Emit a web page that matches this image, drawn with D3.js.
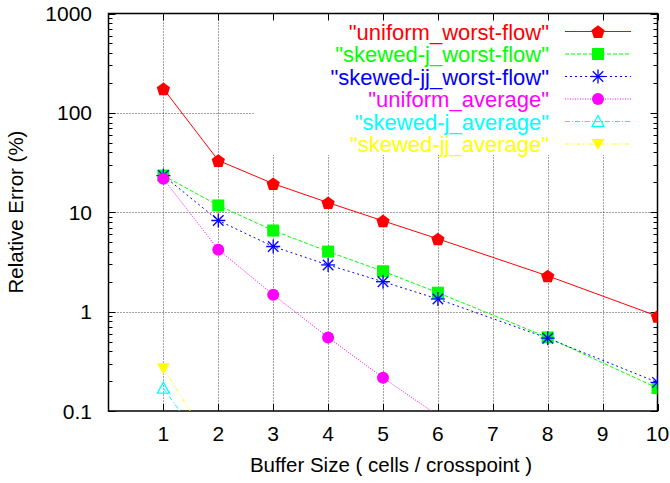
<!DOCTYPE html>
<html><head><meta charset="utf-8">
<script src="https://cdn.jsdelivr.net/npm/d3@7"></script>
<style>body{margin:0;background:#fff}svg{display:block}text{font-family:"Liberation Sans",Arial,Helvetica,sans-serif;fill:#000}</style>
</head><body><svg id="c" width="670" height="483"></svg>
<script>
const bufferSizes = [1, 2, 3, 4, 5, 6, 8, 10];
const uniformWorst = [175, 33.2, 19.4, 12.5, 8.2, 5.4, 2.29, 0.9];
const skewedJWorst = [23.4, 11.7, 6.55, 4.02, 2.55, 1.55, 0.55, 0.17];
const skewedJJWorst = [23.4, 8.26, 4.52, 2.95, 2.0, 1.34, 0.54, 0.194];
const uniformAvgX = [1, 2, 3, 4, 5, 6];
const uniformAvg = [21.7, 4.2, 1.48, 0.55, 0.216, 0.09];
const skewedAvgX = [1, 2];
const skewedJAvg = [0.17, 0.028];
const skewedJJAvg = [0.27, 0.035];
const xTicks = [1, 2, 3, 4, 5, 6, 7, 8, 9, 10];
const yTicks = [0.1, 1, 10, 100, 1000];
const yTickLabels = ["0.1", "1", "10", "100", "1000"];
const seriesNames = ['"uniform_worst-flow"', '"skewed-j_worst-flow"', '"skewed-jj_worst-flow"', '"uniform_average"', '"skewed-j_average"', '"skewed-jj_average"'];

const series = [
  {name: seriesNames[0], xs: bufferSizes, ys: uniformWorst, color: "#ff0000", dash: null, marker: "pentagon"},
  {name: seriesNames[1], xs: bufferSizes, ys: skewedJWorst, color: "#00ff00", dash: "4,2", marker: "square"},
  {name: seriesNames[2], xs: bufferSizes, ys: skewedJJWorst, color: "#0000ff", dash: "2,3", marker: "star"},
  {name: seriesNames[3], xs: uniformAvgX, ys: uniformAvg, color: "#ff00ff", dash: "1,1.5", marker: "circle"},
  {name: seriesNames[4], xs: skewedAvgX, ys: skewedJAvg, color: "#00ffff", dash: "5,2,1,2", marker: "triUp"},
  {name: seriesNames[5], xs: skewedAvgX, ys: skewedJJAvg, color: "#ffff00", dash: "4,2,1,2,1,2", marker: "triDown"}
];

const L = 108.5, R = 657.5, T = 13.5, B = 411;
const svg = d3.select("#c");
svg.append("rect").attr("width", 670).attr("height", 483).attr("fill", "#fff");
const x = d3.scaleLinear().domain([0, 10]).range([L, R]);
const y = d3.scaleLog().domain([0.1, 1000]).range([B, T]);

svg.append("defs").append("clipPath").attr("id", "clip")
  .append("rect").attr("x", L).attr("y", T).attr("width", R - L).attr("height", B - T);

// grid
const grid = svg.append("g").attr("stroke", "#444").attr("stroke-width", 1).attr("stroke-dasharray", "1,2");
xTicks.filter(v => v < 10).forEach(v => {
  grid.append("line").attr("x1", Math.round(x(v)) + 0.5).attr("x2", Math.round(x(v)) + 0.5).attr("y1", T).attr("y2", B);
});
yTicks.filter(v => v > 0.1 && v < 1000).forEach(v => {
  grid.append("line").attr("y1", Math.round(y(v)) + 0.5).attr("y2", Math.round(y(v)) + 0.5).attr("x1", L).attr("x2", R);
});

// legend background (opaque key)
const keyX0 = 255, keyY1 = 155;
svg.append("rect").attr("x", keyX0).attr("y", T).attr("width", R - keyX0).attr("height", keyY1 - T).attr("fill", "#fff");

// ticks
const tk = svg.append("g").attr("stroke", "#000").attr("stroke-width", 1);
for (let d = -1; d < 3; d++) {
  for (let m = 2; m <= 9; m++) {
    const v = m * Math.pow(10, d);
    const yy = Math.round(y(v)) + 0.5;
    tk.append("line").attr("x1", L).attr("x2", L + 4).attr("y1", yy).attr("y2", yy);
    tk.append("line").attr("x1", R).attr("x2", R - 4).attr("y1", yy).attr("y2", yy);
  }
}
yTicks.forEach(v => {
  const yy = Math.round(y(v)) + 0.5;
  tk.append("line").attr("x1", L).attr("x2", L + 7).attr("y1", yy).attr("y2", yy);
  tk.append("line").attr("x1", R).attr("x2", R - 7).attr("y1", yy).attr("y2", yy);
});
xTicks.forEach(v => {
  const xx = Math.round(x(v)) + 0.5;
  tk.append("line").attr("x1", xx).attr("x2", xx).attr("y1", B).attr("y2", B - 7);
  tk.append("line").attr("x1", xx).attr("x2", xx).attr("y1", T).attr("y2", T + 7);
});

// border
svg.append("rect").attr("x", L).attr("y", T).attr("width", R - L).attr("height", B - T)
  .attr("fill", "none").attr("stroke", "#000").attr("stroke-width", 1.5);

// tick labels
yTicks.forEach((v, i) => {
  svg.append("text").attr("x", 92).attr("y", y(v) + 7.5).attr("text-anchor", "end")
    .attr("font-size", 21).text(yTickLabels[i]);
});
xTicks.forEach(v => {
  svg.append("text").attr("x", x(v)).attr("y", 441).attr("text-anchor", "middle")
    .attr("font-size", 21).text(v);
});
svg.append("text").attr("x", (L + R) / 2 + 8).attr("y", 472).attr("text-anchor", "middle")
  .attr("font-size", 20.5).text("Buffer Size ( cells / crosspoint )");
svg.append("text").attr("transform", "translate(23,212) rotate(-90)").attr("text-anchor", "middle")
  .attr("font-size", 20.5).text("Relative Error (%)");

// markers
function drawMarker(g, type, cx, cy, color) {
  const s = 7;
  if (type === "pentagon") {
    const pts = d3.range(5).map(i => {
      const a = -Math.PI / 2 + i * 2 * Math.PI / 5;
      return [cx + 7 * Math.cos(a), cy + 7 * Math.sin(a) + 0.8];
    });
    g.append("polygon").attr("points", pts.map(p => p.join(",")).join(" ")).attr("fill", color);
  } else if (type === "square") {
    g.append("rect").attr("x", cx - 6).attr("y", cy - 6).attr("width", 12).attr("height", 12).attr("fill", color);
  } else if (type === "star") {
    const gg = g.append("g").attr("stroke", color).attr("stroke-width", 1.3);
    gg.append("line").attr("x1", cx - s).attr("x2", cx + s).attr("y1", cy).attr("y2", cy);
    gg.append("line").attr("x1", cx).attr("x2", cx).attr("y1", cy - s).attr("y2", cy + s);
    gg.append("line").attr("x1", cx - s * 0.75).attr("x2", cx + s * 0.75).attr("y1", cy - s * 0.75).attr("y2", cy + s * 0.75);
    gg.append("line").attr("x1", cx - s * 0.75).attr("x2", cx + s * 0.75).attr("y1", cy + s * 0.75).attr("y2", cy - s * 0.75);
  } else if (type === "circle") {
    g.append("circle").attr("cx", cx).attr("cy", cy).attr("r", 6).attr("fill", color);
  } else if (type === "triUp") {
    g.append("polygon").attr("points", [[cx, cy - 6], [cx - 6, cy + 5], [cx + 6, cy + 5]].map(p => p.join(",")).join(" "))
      .attr("fill", "none").attr("stroke", color).attr("stroke-width", 1.3);
  } else if (type === "triDown") {
    g.append("polygon").attr("points", [[cx, cy + 6], [cx - 6.5, cy - 5], [cx + 6.5, cy - 5]].map(p => p.join(",")).join(" "))
      .attr("fill", color);
  }
}

// series
const plot = svg.append("g").attr("clip-path", "url(#clip)");
series.forEach(s => {
  const pts = s.xs.map((xv, i) => [xv, s.ys[i]]);
  const line = d3.line().x(d => x(d[0])).y(d => y(d[1]));
  plot.append("path").attr("d", line(pts)).attr("fill", "none").attr("stroke", s.color)
    .attr("stroke-width", 1).attr("stroke-dasharray", s.dash);
});
series.forEach(s => {
  s.xs.forEach((xv, i) => {
    if (s.ys[i] >= 0.1) drawMarker(plot, s.marker, x(xv), y(s.ys[i]), s.color);
  });
});

// legend
const key = svg.append("g");
series.forEach((s, i) => {
  const cy = 31.5 + i * 22.5;
  const t = key.append("text").attr("x", 549).attr("y", cy + 7.8).attr("text-anchor", "end")
    .attr("font-size", 22).style("fill", s.color).text(s.name);
  const w = t.node().getComputedTextLength();
  t.attr("font-size", 19.8).attr("textLength", w).attr("lengthAdjust", "spacingAndGlyphs")
    .attr("transform", `translate(0,${cy}) scale(1,1.08) translate(0,${-cy})`);
  key.append("line").attr("x1", 565).attr("x2", 631).attr("y1", cy).attr("y2", cy)
    .attr("stroke", s.color).attr("stroke-width", 1).attr("stroke-dasharray", s.dash);
  drawMarker(key, s.marker, 598, cy, s.color);
});
</script></body></html>
